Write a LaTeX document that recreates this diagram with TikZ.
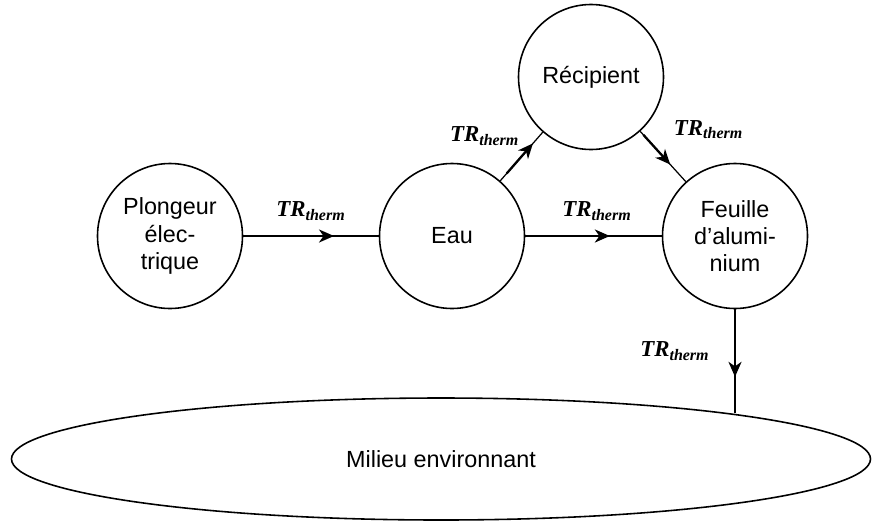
\documentclass[tikz,border=0pt]{standalone}
\usepackage{fontspec}
\setmainfont{Liberation Sans}
\newfontfamily\trfont{Liberation Serif}
\usetikzlibrary{shapes,arrows.meta,positioning,decorations.markings}
\tikzstyle{body} = [circle, draw, line width=0.9pt, minimum size=2.9cm,
    inner sep=0pt, align=center, font=\fontsize{13.3pt}{15.5pt}\selectfont]
\tikzstyle{surround} = [ellipse, draw, line width=0.9pt, minimum width=17.18cm,
    minimum height=2.44cm, inner sep=0pt, font=\fontsize{13.3pt}{15.5pt}\selectfont]
\tikzstyle{line} = [draw, line width=0.7pt]
\tikzstyle{tr} = [font=\trfont\fontsize{13pt}{15pt}\selectfont\bfseries\itshape]
\tikzset{flow/.style={postaction={decorate}, decoration={markings,
    mark=at position #1 with {\draw[line width=1.3pt, -{Stealth[length=0.3cm, width=0.26cm, inset=0.09cm]}] (-0.8cm,0) -- (0,0);}}}}

\begin{document}
\begin{tikzpicture}[node distance = 5.64cm]
    \useasboundingbox (-3.40,-5.72) rectangle (14.04,4.72);
    % Place nodes
    \node [body] (plongeur) {Plongeur\\élec-\\trique};
    \node [body, right of=plongeur] (eau) {Eau};
    \node [body, right of=eau, node distance=5.66cm] (feuille) {Feuille\\d’alumi-\\nium};
    \node [body, on grid, above right=3.18cm and 2.78cm of eau] (recipient) {Récipient};
    \node [surround, on grid, below=4.46cm of eau, xshift=-0.22cm] (milieu) {Milieu environnant};
    \coordinate (contact) at (feuille.south |- milieu.9);
    % Draw edges
    \path [line, flow=0.67] (plongeur) -- node [tr, above=0.18cm] {TR\textsubscript{therm}} (eau);
    \path [line, flow=0.77] (eau) -- node [tr, pos=0.6, anchor=south east] {TR\textsubscript{therm}} (recipient);
    \path [line, flow=0.66] (recipient) -- node [tr, above right=0.22cm and 0.09cm] {TR\textsubscript{therm}} (feuille);
    \path [line, flow=0.62] (eau) -- node [tr, above=0.18cm, xshift=0.07cm] {TR\textsubscript{therm}} (feuille);
    \path [line, flow=0.65] (feuille) -- node [tr, pos=0.4, left=0.38cm] {TR\textsubscript{therm}} (contact);
\end{tikzpicture}
\end{document}
